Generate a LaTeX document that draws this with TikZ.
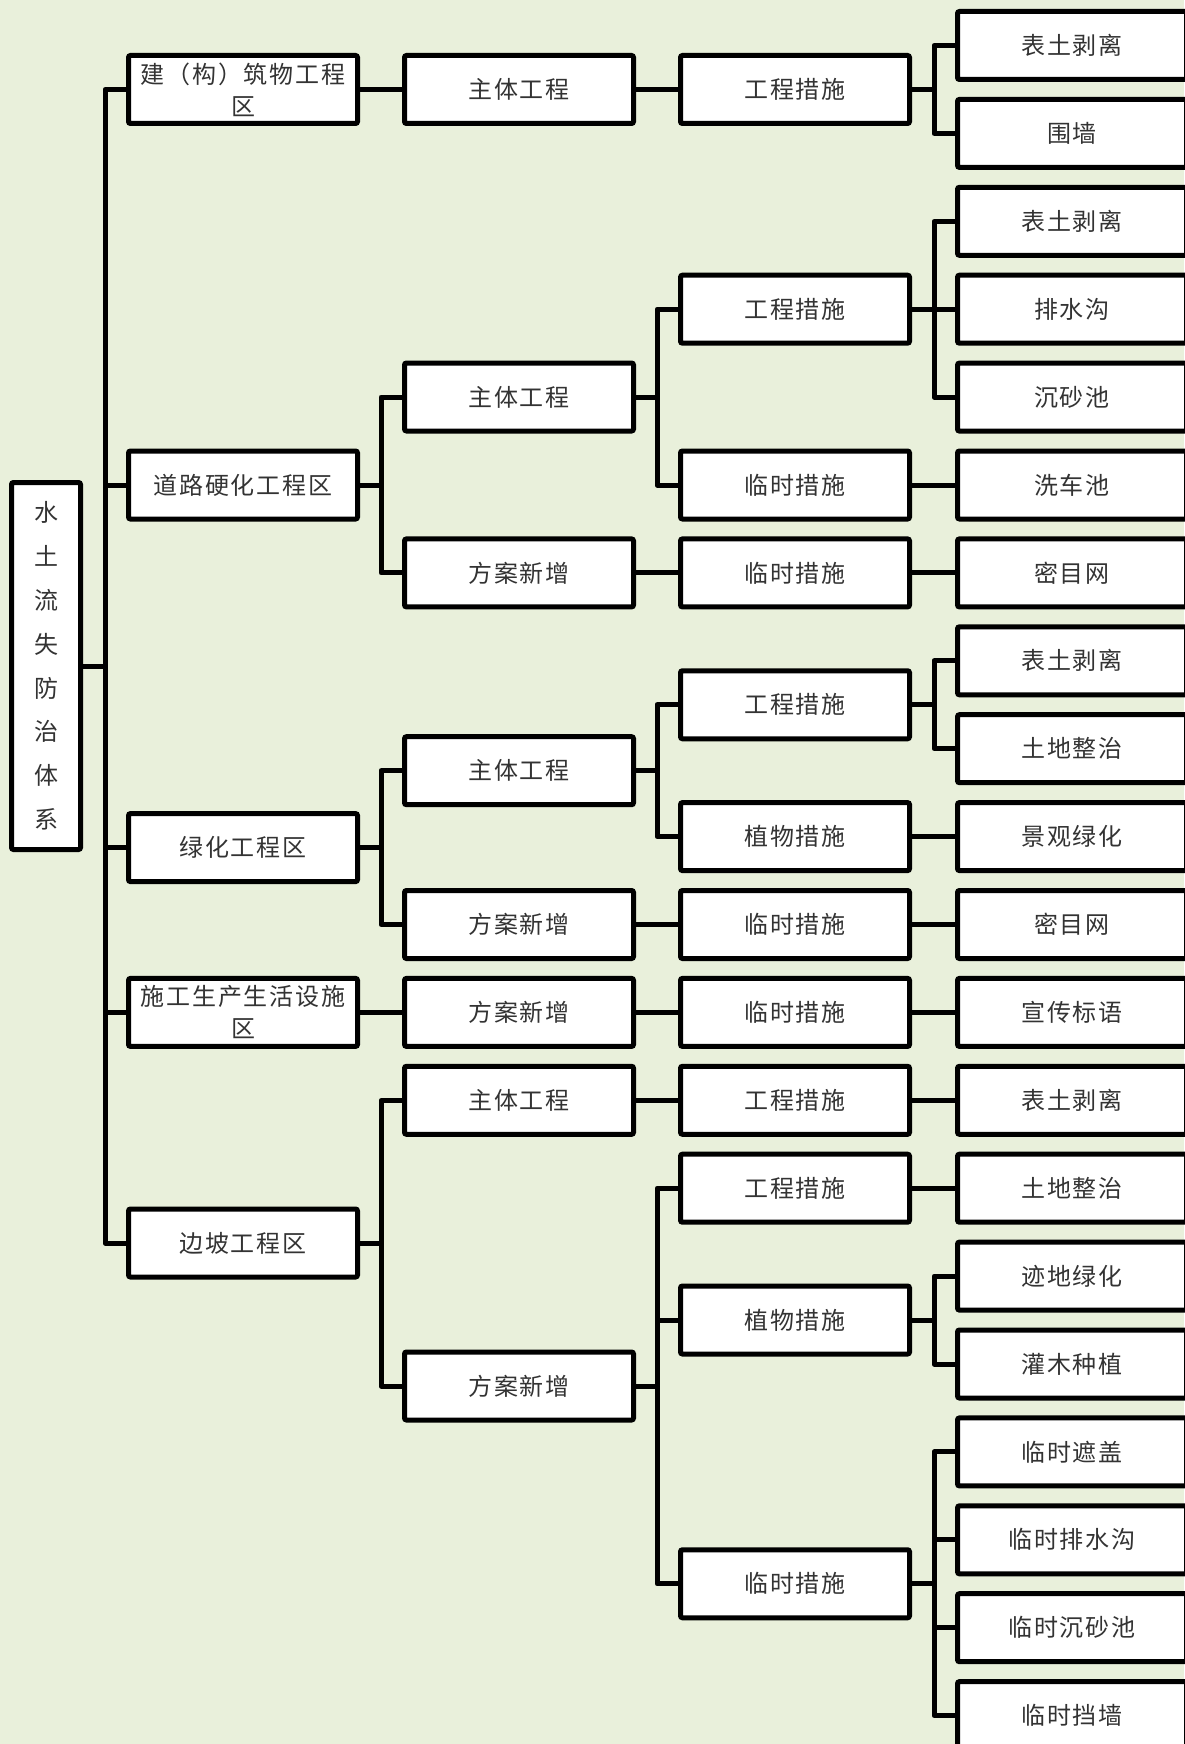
\documentclass[tikz,border=0pt]{standalone}
\usepackage{fontspec}
\newfontfamily\cjk[LetterSpace=8]{Noto Sans CJK SC}
\definecolor{bg}{RGB}{233,240,219}
\begin{document}
\begin{tikzpicture}[x=0.5pt,y=-0.5pt,
  box/.style={draw=black, line width=2.5pt, fill=white, rounded corners=1pt,
    minimum width=114.5pt, minimum height=34pt, inner sep=0pt,
    font=\cjk\fontsize{12}{16}\selectfont, text=black!80, align=center},
  rootbox/.style={box, minimum width=34.5pt, minimum height=183.5pt,
    font=\cjk\fontsize{12}{21.9}\selectfont},
  link/.style={line width=2.5pt, line join=round}]
\fill[bg] (0,0) rectangle (1184,1744);
\useasboundingbox (0,0) rectangle (1184,1744);

\node[rootbox] (r) at (46,666) {水\\土\\流\\失\\防\\治\\体\\系};

\node[box] (a1) at (243,89.5) {建（构）筑物工程\\区};
\node[box] (a2) at (243,485) {道路硬化工程区};
\node[box] (a3) at (243,847.6) {绿化工程区};
\node[box] (a4) at (243,1012.4) {施工生产生活设施\\区};
\node[box] (a5) at (243,1243) {边坡工程区};

\node[box] (b1) at (519,89.5) {主体工程};
\node[box] (b2) at (519,397) {主体工程};
\node[box] (b3) at (519,572.9) {方案新增};
\node[box] (b4) at (519,770.7) {主体工程};
\node[box] (b5) at (519,924.5) {方案新增};
\node[box] (b6) at (519,1012.4) {方案新增};
\node[box] (b7) at (519,1100.3) {主体工程};
\node[box] (b8) at (519,1386) {方案新增};

\node[box] (c1) at (795,89.5) {工程措施};
\node[box] (c2) at (795,309.2) {工程措施};
\node[box] (c3) at (795,485) {临时措施};
\node[box] (c4) at (795,572.9) {临时措施};
\node[box] (c5) at (795,704.75) {工程措施};
\node[box] (c6) at (795,836.6) {植物措施};
\node[box] (c7) at (795,924.5) {临时措施};
\node[box] (c8) at (795,1012.4) {临时措施};
\node[box] (c9) at (795,1100.3) {工程措施};
\node[box] (c10) at (795,1188.2) {工程措施};
\node[box] (c11) at (795,1320) {植物措施};
\node[box] (c12) at (795,1583.75) {临时措施};

\foreach \t [count=\i from 0] in {表土剥离,围墙,表土剥离,排水沟,沉砂池,洗车池,密目网,表土剥离,土地整治,景观绿化,密目网,宣传标语,表土剥离,土地整治,迹地绿化,灌木种植,临时遮盖,临时排水沟,临时沉砂池,临时挡墙}
  \node[box] (d\i) at (1072,45.5+87.9*\i) {\t};

\foreach \p/\c in {r/a1,r/a2,r/a3,r/a4,r/a5,
  a1/b1,a2/b2,a2/b3,a3/b4,a3/b5,a4/b6,a5/b7,a5/b8,
  b1/c1,b2/c2,b2/c3,b3/c4,b4/c5,b4/c6,b5/c7,b6/c8,b7/c9,b8/c10,b8/c11,b8/c12,
  c1/d0,c1/d1,c2/d2,c2/d3,c2/d4,c3/d5,c4/d6,c5/d7,c5/d8,c6/d9,c7/d10,c8/d11,
  c9/d12,c10/d13,c11/d14,c11/d15,c12/d16,c12/d17,c12/d18,c12/d19}
  \draw[link] (\p.east) -| ([xshift=-10.5pt]\c.west) -- (\c.west);
\end{tikzpicture}
\end{document}
